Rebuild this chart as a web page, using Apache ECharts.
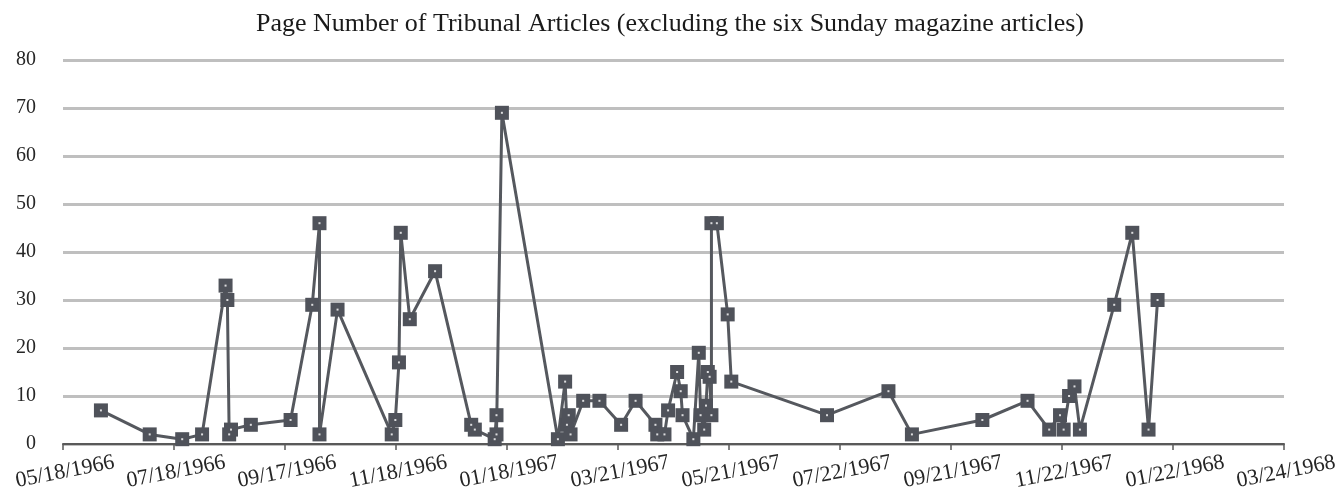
<!DOCTYPE html>
<html>
<head>
<meta charset="utf-8">
<title>Tribunal Articles</title>
<script src="https://cdn.jsdelivr.net/npm/echarts@6/dist/echarts.min.js"></script>
<style>
  html, body { margin: 0; padding: 0; background: #fff; }
  #chart { width: 1340px; height: 493px; }
</style>
</head>
<body>
<div id="chart"></div>
<script>
// publication dates and page numbers
var articleDates = [
    '1966-06-08', '1966-07-05', '1966-07-23', '1966-08-03', '1966-08-16', '1966-08-17',
    '1966-08-18', '1966-08-19', '1966-08-30', '1966-09-21', '1966-10-03', '1966-10-07',
    '1966-10-07', '1966-10-17', '1966-11-16', '1966-11-18', '1966-11-20', '1966-11-21',
    '1966-11-26', '1966-12-10', '1966-12-30', '1967-01-01', '1967-01-12', '1967-01-13',
    '1967-01-13', '1967-01-16', '1967-02-16', '1967-02-20', '1967-02-21', '1967-02-22',
    '1967-02-23', '1967-03-02', '1967-03-11', '1967-03-23', '1967-03-31', '1967-04-11',
    '1967-04-12', '1967-04-16', '1967-04-18', '1967-04-23', '1967-04-25', '1967-04-26',
    '1967-05-02', '1967-05-05', '1967-05-06', '1967-05-08', '1967-05-09', '1967-05-10',
    '1967-05-11', '1967-05-12', '1967-05-12', '1967-05-15', '1967-05-21', '1967-05-23',
    '1967-07-15', '1967-08-18', '1967-08-31', '1967-10-09', '1967-11-03', '1967-11-15',
    '1967-11-21', '1967-11-23', '1967-11-26', '1967-11-29', '1967-12-02', '1967-12-21',
    '1967-12-31', '1968-01-09', '1968-01-14'
];
var pageNumbers = [
    7, 2, 1, 2, 33, 30,
    2, 3, 4, 5, 29, 46,
    2, 28, 2, 5, 17, 44,
    26, 36, 4, 3, 1, 6,
    2, 69, 1, 13, 4, 6,
    2, 9, 9, 4, 9, 4,
    2, 2, 7, 15, 11, 6,
    1, 19, 6, 3, 8, 15,
    14, 6, 46, 46, 27, 13,
    6, 11, 2, 5, 9, 3,
    6, 3, 10, 12, 3, 29,
    44, 3, 30
];
var tickLabels = ['05/18/1966', '07/18/1966', '09/17/1966', '11/18/1966', '01/18/1967', '03/21/1967',
    '05/21/1967', '07/22/1967', '09/21/1967', '11/22/1967', '01/22/1968', '03/24/1968'];
var axisStart = '1966-05-18';
var axisEnd = '1968-03-24';

function dayOf(s) {
    var p = s.split('-');
    var a = axisStart.split('-');
    return (Date.UTC(+p[0], +p[1] - 1, +p[2]) - Date.UTC(+a[0], +a[1] - 1, +a[2])) / 86400000;
}

var totalDays = dayOf(axisEnd);
var step = totalDays / (tickLabels.length - 1);
var points = articleDates.map(function (d, i) { return [dayOf(d), pageNumbers[i]]; });

var serif = 'Liberation Serif';
var myChart = echarts.init(document.getElementById('chart'));
var option = {
    animation: false,
    title: {
        text: 'Page Number of Tribunal Articles (excluding the six Sunday magazine articles)',
        left: 'center',
        top: 6,
        textStyle: { color: '#1a1a1a', fontSize: 26, fontWeight: 'normal', fontFamily: serif }
    },
    grid: { left: 63, right: 56, top: 60, bottom: 49, containLabel: false, outerBoundsMode: 'none' },
    xAxis: {
        type: 'value',
        min: 0,
        max: totalDays,
        interval: step,
        splitLine: { show: false },
        axisLine: { show: true, lineStyle: { color: '#595959', width: 2 } },
        axisTick: { show: true, length: 6, lineStyle: { color: '#595959', width: 1.5 } },
        axisLabel: {
            showMinLabel: true,
            showMaxLabel: true,
            rotate: 11,
            align: 'center',
            verticalAlign: 'top',
            margin: 17,
            color: '#262626',
            fontSize: 22,
            fontFamily: serif,
            formatter: function (v) { return tickLabels[Math.round(v / step)] || ''; }
        }
    },
    yAxis: {
        type: 'value',
        min: 0,
        max: 80,
        interval: 10,
        axisLine: { show: false },
        axisTick: { show: false },
        splitLine: { lineStyle: { color: '#bfbfbf', width: 3 } },
        axisLabel: { color: '#262626', fontSize: 20, fontFamily: serif, margin: 27 }
    },
    series: [
        {
            type: 'line',
            data: points,
            symbol: 'rect',
            symbolSize: 14,
            showAllSymbol: true,
            lineStyle: { color: '#55585e', width: 3 },
            itemStyle: { color: '#4f525a' }
        },
        {
            type: 'scatter',
            data: points,
            symbol: 'rect',
            symbolSize: 2,
            silent: true,
            z: 5,
            itemStyle: { color: '#ffffff' }
        }
    ]
};
myChart.setOption(option);
</script>
</body>
</html>
